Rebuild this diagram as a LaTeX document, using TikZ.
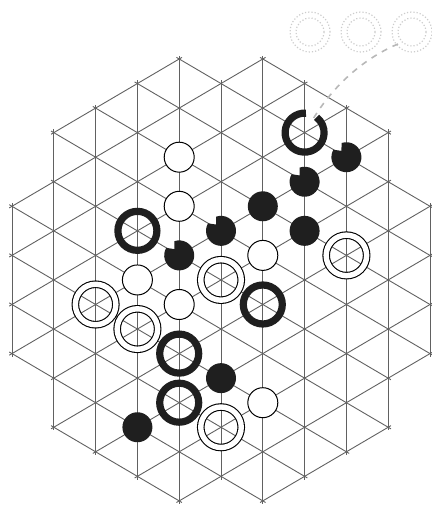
\documentclass[tikz,border=0pt]{standalone}
\usetikzlibrary{calc}
\begin{document}
\begin{tikzpicture}[x=0.5pt,y=0.5pt,
  gridline/.style={draw=black!62, line width=0.45pt, shorten <=-1.6pt, shorten >=-1.6pt},
  wmarker/.style={circle, draw=black, line width=0.5pt, fill=white, minimum size=15pt, inner sep=0pt},
  bmarker/.style={circle, fill=black!88, minimum size=15pt, inner sep=0pt},
  bring/.style={circle, draw=black!88, line width=3.6pt, minimum size=19.5pt, inner sep=0pt},
  wring/.style={circle, draw=black, line width=0.55pt, double=white, double distance=2.7pt, minimum size=20.25pt, inner sep=0pt},
  ghost/.style={draw=black!20, densely dotted, line width=0.6pt},
  pathline/.style={draw=black!28, dashed, line width=0.8pt}]
\useasboundingbox (0,0) rectangle (432,513);
% board points and vertical lines
\foreach \c/\a/\b in {0/6/12,1/3/15,2/2/16,3/1/17,4/0/18,5/1/17,6/0/18,7/1/17,8/2/16,9/3/15,10/6/12}{
  \foreach \r in {\a,...,\b}{\coordinate (v\c-\r) at ({12+41.8*\c},{454-24.55*\r});}
  \draw[gridline] (v\c-\a) -- (v\c-\b);
}
% up-right lines (c+r constant)
\foreach \s/\a/\b in {4/1/4,6/0/6,8/0/7,10/0/8,12/0/9,14/1/9,16/1/10,18/2/10,20/3/10,22/4/10,24/6/9}{
  \pgfmathtruncatemacro\ra{\s-\a}
  \pgfmathtruncatemacro\rb{\s-\b}
  \draw[gridline] (v\a-\ra) -- (v\b-\rb);
}
% down-right lines (r-c constant)
\foreach \d/\a/\b in {-6/6/9,-4/4/10,-2/3/10,0/2/10,2/1/10,4/1/9,6/0/9,8/0/8,10/0/7,12/0/6,14/1/4}{
  \pgfmathtruncatemacro\ra{\d+\a}
  \pgfmathtruncatemacro\rb{\d+\b}
  \draw[gridline] (v\a-\ra) -- (v\b-\rb);
}
% removed rings area (faint)
\foreach \gx [count=\i] in {310,361,412}{
  \coordinate (g\i) at (\gx,481);
  \draw[ghost] (g\i) circle[radius=20];
  \draw[ghost] (g\i) circle[radius=14];
}
% white markers
\node[wmarker] (w1) at (v4-4) {};
\node[wmarker] (w2) at (v4-6) {};
\node[wmarker] (w3) at (v6-8) {};
\node[wmarker] (w4) at (v3-9) {};
\node[wmarker] (w5) at (v4-10) {};
\node[wmarker] (w6) at (v6-14) {};
% black markers
\node[bmarker] (b1) at (v6-6) {};
\node[bmarker] (b2) at (v7-7) {};
\node[bmarker] (b3) at (v5-13) {};
\node[bmarker] (b4) at (v3-15) {};
% notched black markers
\foreach \p in {v8-4,v7-5,v5-7,v4-8}{
  \fill[black!88] ([shift={(150:15)}]\p) arc[start angle=150, end angle=469, radius=15]
    -- ([shift={(128:8)}]\p) -- cycle;
}
% white rings
\node[wring] (wr1) at (v8-8) {};
\node[wring] (wr2) at (v5-9) {};
\node[wring] (wr3) at (v2-10) {};
\node[wring] (wr4) at (v3-11) {};
\node[wring] (wr5) at (v5-15) {};
% black rings
\node[bring] (br1) at (v3-7) {};
\node[bring] (br2) at (v6-10) {};
\node[bring] (br3) at (v4-12) {};
\node[bring] (br4) at (v4-14) {};
% ring being removed (with gap)
\draw[black!88, line width=3.6pt] ([shift={(86:19.5)}]v7-3) arc[start angle=86, end angle=412, radius=19.5];
\coordinate (pend) at ([shift={(58:13)}]v7-3);
\coordinate (pstart) at (398,469);
\draw[pathline] (pstart) .. controls (360,453) and (330,423) .. (pend);
\end{tikzpicture}
\end{document}
